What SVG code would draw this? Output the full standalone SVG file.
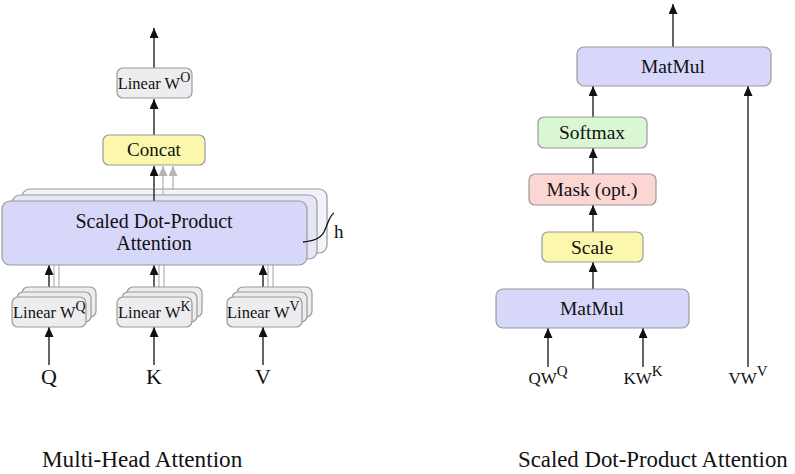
<svg xmlns="http://www.w3.org/2000/svg" width="795" height="474" viewBox="0 0 795 474">
<style>
text{font-family:"Liberation Serif","Times New Roman",serif;fill:#111;}
.box{stroke:#9a9a9a;stroke-width:1.2;}
.lin{fill:#ededef;}
.lav{fill:#d7d7fa;}
.lav2{fill:#e6e6f7;}
.lav3{fill:#f3f3fb;}
.yel{fill:#fbf8ae;}
.grn{fill:#d9f7d3;}
.pnk{fill:#fbd6d3;}
.arr{stroke:#111;stroke-width:1.3;fill:none;marker-end:url(#ah);}
.garr{stroke:#b4b4b4;stroke-width:1.3;fill:none;marker-end:url(#gah);}
.gl{stroke:#b4b4b4;stroke-width:1.2;fill:none;}
.ln{stroke:#111;stroke-width:1.3;fill:none;}
.c{text-anchor:middle;}
</style>
<defs>
<marker id="ah" markerUnits="userSpaceOnUse" markerWidth="10" markerHeight="9" refX="10" refY="4.5" orient="auto"><path d="M0,0 L10,4.5 L0,9 z" fill="#111"/></marker>
<marker id="gah" markerUnits="userSpaceOnUse" markerWidth="10" markerHeight="9" refX="10" refY="4.5" orient="auto"><path d="M0,0 L10,4.5 L0,9 z" fill="#b4b4b4"/></marker>
</defs>

<g id="connectors">
<!-- left diagram -->
<line class="arr" x1="154" y1="68" x2="154" y2="28"/>
<line class="arr" x1="154" y1="135" x2="154" y2="99"/>
<line class="arr" x1="154" y1="201" x2="154" y2="166"/>
<line class="garr" x1="163" y1="189" x2="163" y2="166"/>
<line class="garr" x1="173" y1="189" x2="173" y2="166"/>
<line class="gl" x1="54" y1="292" x2="54" y2="259"/>
<line class="gl" x1="59" y1="287" x2="59" y2="253"/>
<line class="gl" x1="159" y1="292" x2="159" y2="259"/>
<line class="gl" x1="164" y1="287" x2="164" y2="253"/>
<line class="gl" x1="268" y1="292" x2="268" y2="259"/>
<line class="gl" x1="273" y1="287" x2="273" y2="253"/>
<line class="arr" x1="49" y1="297" x2="49" y2="265"/>
<line class="arr" x1="154" y1="297" x2="154" y2="265"/>
<line class="arr" x1="263" y1="297" x2="263" y2="265"/>
<line class="arr" x1="49" y1="365" x2="49" y2="327"/>
<line class="arr" x1="154" y1="365" x2="154" y2="327"/>
<line class="arr" x1="263" y1="365" x2="263" y2="327"/>
<!-- right diagram -->
<line class="arr" x1="673" y1="47" x2="673" y2="4"/>
<line class="arr" x1="593" y1="117" x2="593" y2="86"/>
<line class="arr" x1="748" y1="367" x2="748" y2="86"/>
<line class="arr" x1="593" y1="174" x2="593" y2="148"/>
<line class="arr" x1="593" y1="232" x2="593" y2="205"/>
<line class="arr" x1="593" y1="289" x2="593" y2="262"/>
<line class="arr" x1="548" y1="367" x2="548" y2="328"/>
<line class="arr" x1="643" y1="367" x2="643" y2="328"/>
</g>

<g id="linear-wo">
<rect class="box lin" x="117" y="68" width="75" height="30" rx="6"/>
<text x="154" y="89" font-size="16.5" class="c">Linear W<tspan dy="-7" font-size="14">O</tspan></text>
</g>

<g id="concat">
<rect class="box yel" x="103" y="135" width="102" height="30" rx="6"/>
<text x="154" y="156" font-size="19" class="c">Concat</text>
</g>

<g id="sdpa-stack">
<rect class="box lav3" x="22" y="189" width="305" height="64" rx="8"/>
<rect class="box lav2" x="12" y="195" width="305" height="64" rx="8"/>
<line class="ln" x1="154" y1="189" x2="154" y2="201"/>
<line class="gl" x1="163" y1="189" x2="163" y2="195"/>
<rect class="box lav" x="2" y="201" width="305" height="64" rx="8"/>
<text x="154" y="228" font-size="20" class="c">Scaled Dot-Product</text>
<text x="154" y="250" font-size="20" class="c">Attention</text>
<path class="ln" d="M303,242 C313,241 320,239 324,232 C328,224 329,216 334,213"/>
<text x="334" y="238" font-size="19">h</text>
</g>

<g id="linear-wq">
<rect class="box lin" x="22" y="287" width="74" height="30" rx="6"/>
<rect class="box lin" x="17" y="292" width="74" height="30" rx="6"/>
<rect class="box lin" x="12" y="297" width="74" height="30" rx="6"/>
<text x="13" y="318" font-size="16.5">Linear W<tspan dy="-7" font-size="14">Q</tspan></text>
</g>

<g id="linear-wk">
<rect class="box lin" x="127" y="287" width="75" height="30" rx="6"/>
<rect class="box lin" x="122" y="292" width="75" height="30" rx="6"/>
<rect class="box lin" x="117" y="297" width="75" height="30" rx="6"/>
<text x="118" y="318" font-size="16.5">Linear W<tspan dy="-7" font-size="14">K</tspan></text>
</g>

<g id="linear-wv">
<rect class="box lin" x="237" y="287" width="75" height="30" rx="6"/>
<rect class="box lin" x="232" y="292" width="75" height="30" rx="6"/>
<rect class="box lin" x="227" y="297" width="75" height="30" rx="6"/>
<text x="227" y="318" font-size="16.5">Linear W<tspan dy="-7" font-size="14">V</tspan></text>
</g>

<g id="inputs-left">
<text x="49" y="384" font-size="22" class="c">Q</text>
<text x="154" y="384" font-size="22" class="c">K</text>
<text x="263" y="384" font-size="22" class="c">V</text>
</g>

<g id="title-left">
<text x="42" y="467" font-size="23.2">Multi-Head Attention</text>
</g>

<g id="matmul-top">
<rect class="box lav" x="577" y="47" width="194" height="39" rx="7"/>
<text x="673" y="73" font-size="19.5" class="c">MatMul</text>
</g>

<g id="softmax">
<rect class="box grn" x="538" y="117" width="109" height="31" rx="6"/>
<text x="592" y="139" font-size="19.5" class="c">Softmax</text>
</g>

<g id="mask">
<rect class="box pnk" x="529" y="174" width="127" height="31" rx="6"/>
<text x="592" y="196" font-size="19.5" class="c">Mask (opt.)</text>
</g>

<g id="scale">
<rect class="box yel" x="542" y="232" width="101" height="30" rx="6"/>
<text x="592" y="254" font-size="19.5" class="c">Scale</text>
</g>

<g id="matmul-bottom">
<rect class="box lav" x="496" y="289" width="193" height="39" rx="7"/>
<text x="592" y="315" font-size="19.5" class="c">MatMul</text>
</g>

<g id="inputs-right">
<text x="548" y="384" font-size="17" class="c">QW<tspan dy="-8" font-size="15">Q</tspan></text>
<text x="643" y="384" font-size="17" class="c">KW<tspan dy="-8" font-size="15">K</tspan></text>
<text x="748" y="384" font-size="17" class="c">VW<tspan dy="-8" font-size="15">V</tspan></text>
</g>

<g id="title-right">
<text x="518" y="467" font-size="22.8">Scaled Dot-Product Attention</text>
</g>
</svg>
